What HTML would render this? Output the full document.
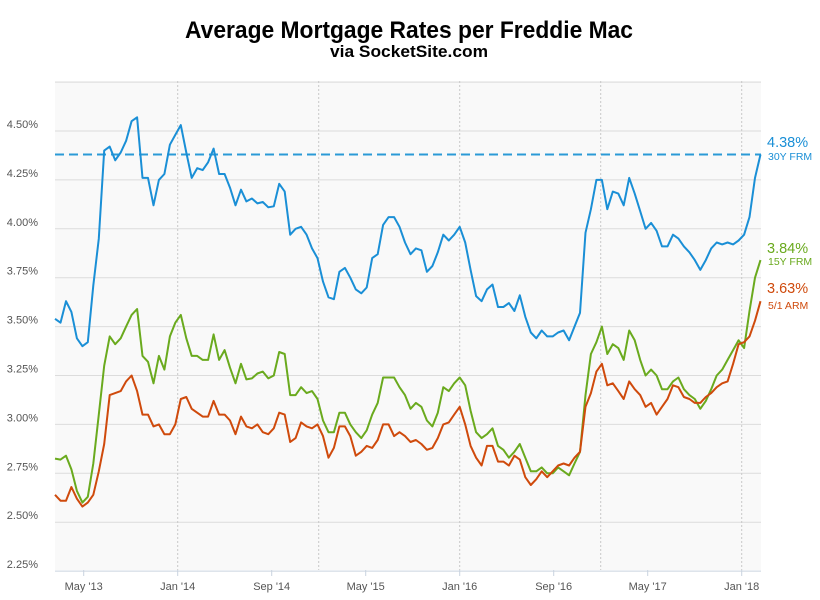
<!DOCTYPE html>
<html><head><meta charset="utf-8"><style>
html,body{margin:0;padding:0;background:#fff;}
svg{display:block;font-family:"Liberation Sans",sans-serif;}
</style></head><body>
<svg id="chart" width="820" height="600" viewBox="0 0 820 600">
<defs><clipPath id="plotclip"><rect x="54" y="70" width="708" height="500"/></clipPath></defs>
<text x="409" y="38" text-anchor="middle" font-size="24" font-weight="bold" fill="#000" textLength="448" lengthAdjust="spacingAndGlyphs">Average Mortgage Rates per Freddie Mac</text>
<text x="409" y="57" text-anchor="middle" font-size="17" font-weight="bold" fill="#000" textLength="158" lengthAdjust="spacingAndGlyphs">via SocketSite.com</text>
<rect x="55" y="81" width="706" height="489" fill="#f9f9f9"/>
<g id="grid"></g>
<g id="yaxis"></g>
<g id="xaxis"></g>
<g id="series" clip-path="url(#plotclip)"></g>
<g id="labels"></g>
</svg>
<script>
const yTicks = [2.25, 2.50, 2.75, 3.00, 3.25, 3.50, 3.75, 4.00, 4.25, 4.50, 4.75];
const xTickLabels = ["May '13", "Jan '14", "Sep '14", "May '15", "Jan '16", "Sep '16", "May '17", "Jan '18"];
const xTickMonths = [4, 12, 20, 28, 36, 44, 52, 60]; // months since Jan 2013
const yearLines = [12, 24, 36, 48, 60];
const startMonth = 1.56; // mid-Feb 2013
const stepMonths = 0.4654; // ~biweekly
const frm30 = [3.54,3.52,3.63,3.575,3.44,3.40,3.42,3.71,3.95,4.40,4.42,4.35,4.39,4.45,4.55,4.57,4.26,4.26,4.12,4.25,4.28,4.43,4.48,4.53,4.39,4.26,4.31,4.30,4.34,4.41,4.28,4.28,4.21,4.12,4.20,4.14,4.155,4.13,4.137,4.11,4.115,4.23,4.19,3.97,4.00,4.01,3.97,3.90,3.85,3.73,3.65,3.64,3.78,3.80,3.75,3.69,3.67,3.70,3.85,3.87,4.02,4.06,4.06,4.01,3.93,3.87,3.90,3.89,3.78,3.81,3.88,3.97,3.94,3.97,4.01,3.93,3.79,3.656,3.63,3.69,3.715,3.60,3.60,3.62,3.58,3.66,3.55,3.47,3.44,3.48,3.45,3.45,3.47,3.48,3.43,3.50,3.57,3.98,4.10,4.25,4.25,4.10,4.19,4.18,4.12,4.26,4.18,4.09,4.00,4.03,3.99,3.91,3.91,3.97,3.95,3.91,3.88,3.84,3.79,3.84,3.90,3.93,3.92,3.93,3.92,3.94,3.97,4.06,4.26,4.38];
const frm15 = [2.825,2.82,2.84,2.77,2.66,2.60,2.63,2.80,3.05,3.30,3.45,3.41,3.44,3.50,3.56,3.59,3.35,3.32,3.21,3.35,3.28,3.45,3.52,3.56,3.44,3.35,3.35,3.33,3.33,3.46,3.33,3.38,3.29,3.21,3.31,3.23,3.235,3.26,3.27,3.235,3.25,3.37,3.36,3.15,3.15,3.19,3.16,3.17,3.13,3.02,2.96,2.96,3.06,3.06,3.00,2.96,2.93,2.97,3.05,3.11,3.24,3.24,3.24,3.19,3.15,3.08,3.11,3.09,3.02,2.99,3.06,3.19,3.17,3.21,3.24,3.20,3.07,2.96,2.93,2.95,2.98,2.89,2.87,2.83,2.86,2.90,2.83,2.76,2.76,2.78,2.75,2.75,2.78,2.76,2.74,2.80,2.86,3.15,3.36,3.42,3.50,3.36,3.41,3.39,3.33,3.48,3.43,3.33,3.25,3.28,3.25,3.18,3.18,3.22,3.24,3.18,3.15,3.13,3.08,3.12,3.18,3.25,3.28,3.33,3.38,3.43,3.39,3.58,3.75,3.84];
const arm51 = [2.64,2.61,2.61,2.68,2.62,2.58,2.60,2.64,2.76,2.90,3.15,3.16,3.17,3.22,3.25,3.17,3.05,3.05,2.99,3.00,2.95,2.95,3.00,3.13,3.14,3.08,3.06,3.04,3.04,3.12,3.05,3.05,3.02,2.95,3.04,2.99,2.98,3.00,2.96,2.95,2.98,3.06,3.05,2.91,2.93,3.01,2.99,2.98,3.00,2.94,2.83,2.88,2.99,2.99,2.94,2.84,2.86,2.89,2.88,2.92,3.00,3.00,2.94,2.96,2.94,2.91,2.92,2.90,2.87,2.88,2.93,3.00,3.01,3.05,3.09,3.00,2.89,2.83,2.79,2.89,2.89,2.81,2.81,2.79,2.84,2.82,2.73,2.69,2.72,2.76,2.73,2.76,2.79,2.80,2.79,2.83,2.86,3.09,3.16,3.27,3.31,3.20,3.21,3.17,3.13,3.22,3.18,3.15,3.09,3.11,3.05,3.09,3.13,3.20,3.19,3.14,3.13,3.11,3.11,3.14,3.16,3.19,3.21,3.22,3.31,3.41,3.42,3.45,3.53,3.63];
const seriesNames = ["30Y FRM", "15Y FRM", "5/1 ARM"];
const latest = [4.38, 3.84, 3.63];

const NS = "http://www.w3.org/2000/svg";
function xScale(m){ return 177.7 + (m - 12) * 11.75; }
function yScale(v){ return 131 + (4.50 - v) * 195.6; }
function mk(tag, attrs, parent){ const e = document.createElementNS(NS, tag); for (const k in attrs) e.setAttribute(k, attrs[k]); parent.appendChild(e); return e; }

const grid = document.getElementById('grid');
const yaxis = document.getElementById('yaxis');
yTicks.forEach(function(t){
  const y = yScale(t);
  const l = mk('line', {x1:55, x2:761, y1:y, y2:y, stroke: t===2.25 ? '#c9d3df' : '#dcdcdc', 'stroke-width':1}, grid);
  
  
  if (t <= 4.5) {
    const tx = mk('text', {x:38, y:y-3, 'text-anchor':'end', 'font-size':11, fill:'#555'}, yaxis);
    tx.textContent = t.toFixed(2) + '%';
    
    
  }
});
yearLines.forEach(function(m){
  const x = xScale(m);
  const l = mk('line', {x1:x, x2:x, y1:81, y2:570, stroke:'#c8c8c8', 'stroke-width':1, 'stroke-dasharray':'2,2'}, grid);
  
  
});
const xaxis = document.getElementById('xaxis');
xTickMonths.forEach(function(m, i){
  const x = xScale(m);
  const tk = mk('line', {x1:x, x2:x, y1:570, y2:576, stroke:'#c9d3df', 'stroke-width':1}, xaxis);
  
  
  const tx = mk('text', {x:x, y:590, 'text-anchor':'middle', 'font-size':11, fill:'#555'}, xaxis);
  tx.textContent = xTickLabels[i];
  
  
});

const series = document.getElementById('series');
const ref = mk('line', {x1:55, x2:761, y1:yScale(latest[0]), y2:yScale(latest[0]), stroke:'#2b9ad6', 'stroke-width':2, 'stroke-dasharray':'9,5'}, series);



const colors = ['#1a8fd6', '#6aaa1e', '#cf4a0c'];
const names = ['line-30y-frm', 'line-15y-frm', 'line-5-1-arm'];
[frm30, frm15, arm51].forEach(function(vals, si){
  let d = '';
  vals.forEach(function(v, i){
    const x = xScale(startMonth + i * stepMonths);
    d += (i ? 'L' : 'M') + x.toFixed(1) + ',' + yScale(v).toFixed(1);
  });
  const p = mk('path', {d:d, fill:'none', stroke:colors[si], 'stroke-width':2, 'stroke-linejoin':'round'}, series);
  
  
});

const labels = document.getElementById('labels');
const labelBase = [147, 253, 293];
seriesNames.forEach(function(n, i){
  const a = mk('text', {x:767, y:labelBase[i], 'font-size':14.5, fill:colors[i]}, labels);
  a.textContent = latest[i].toFixed(2) + '%';
  
  
  const b = mk('text', {x:768, y:labelBase[i] + (i===0 ? 13 : (i===1 ? 12 : 16)), 'font-size':10.5, fill:colors[i]}, labels);
  b.textContent = n;
  
  
});
</script>
</body></html>
